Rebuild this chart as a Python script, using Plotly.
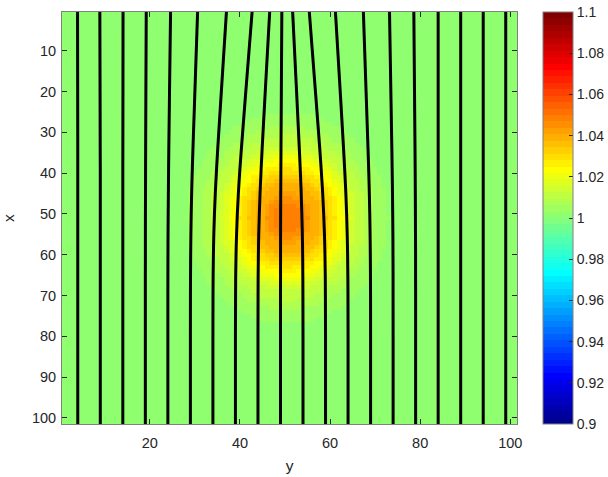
import plotly.graph_objects as go

# ---------------- data ----------------
# grid (vertical axis is "x", horizontal axis is "y")
grid_x = list(range(1, 102))
grid_y = list(range(1, 102))

# centre of the bump, its vertical stretch, and its value at integer distance from the centre
bump_center_x = 51
bump_center_y = 50.5
bump_stretch_x = 1.15
bump_profile = [1.04950, 1.04923, 1.04842, 1.04709, 1.04530, 1.04310, 1.04055,
                1.03773, 1.03472, 1.03160, 1.02845, 1.02532, 1.02229, 1.01941,
                1.01671, 1.01423, 1.01198, 1.00998, 1.00822, 1.00670, 1.00540,
                1.00430, 1.00339, 1.00264, 1.00203, 1.00155, 1.00117, 1.00087,
                1.00064, 1.00047, 1.00034]
background_value = 1.0

# black curves: horizontal ("y") position at each vertical ("x") level
line_levels = [101.5, 80, 70, 65, 60, 55, 50, 45, 40, 34, 20, 0.5]
line_01 = [4, 4, 4, 4, 4, 4, 4, 4, 4, 4, 3.98, 3.95]
line_02 = [9, 9, 9, 9, 9, 9, 9, 9, 9, 8.98, 8.95, 8.9]
line_03 = [14, 14, 14, 14, 14, 14, 14, 14, 14, 14.01, 14.03, 14.05]
line_04 = [19, 19, 19, 19, 19.01, 19.01, 19.02, 19.04, 19.05, 19.07, 19.12, 19.2]
line_05 = [24, 24, 24, 24.01, 24.02, 24.04, 24.07, 24.11, 24.15, 24.21, 24.37, 24.6]
line_06 = [29, 29, 29.01, 29.03, 29.06, 29.11, 29.18, 29.28, 29.4, 29.57, 30.0, 30.6]
line_07 = [34, 34, 34.02, 34.05, 34.11, 34.2, 34.34, 34.53, 34.76, 35.07, 35.87, 37.0]
line_08 = [39, 39, 39.03, 39.06, 39.13, 39.25, 39.42, 39.65, 39.93, 40.32, 41.3, 42.7]
line_09 = [44, 44, 44.02, 44.04, 44.09, 44.17, 44.3, 44.46, 44.66, 44.93, 45.62, 46.6]
line_10 = [49, 49, 49, 49.01, 49.01, 49.02, 49.03, 49.05, 49.08, 49.11, 49.19, 49.3]
line_11 = [54, 54, 53.98, 53.96, 53.92, 53.85, 53.74, 53.6, 53.42, 53.18, 52.57, 51.7]
line_12 = [59, 59, 58.97, 58.94, 58.87, 58.76, 58.59, 58.37, 58.09, 57.72, 56.76, 55.4]
line_13 = [64, 64, 63.98, 63.95, 63.9, 63.81, 63.68, 63.51, 63.29, 63.0, 62.26, 61.2]
line_14 = [69, 69, 68.99, 68.97, 68.94, 68.89, 68.82, 68.72, 68.6, 68.43, 68.0, 67.4]
line_15 = [74, 74, 73.99, 73.99, 73.97, 73.95, 73.91, 73.86, 73.8, 73.72, 73.5, 73.2]
line_16 = [79, 79, 79, 78.99, 78.99, 78.97, 78.95, 78.93, 78.9, 78.86, 78.75, 78.6]
line_17 = [84, 84, 84, 84, 84, 84, 84, 84, 84, 84, 84, 84]
line_18 = [89, 89, 89, 89, 89, 89, 89, 89, 89, 89, 89, 89]
line_19 = [94, 94, 94, 94, 94, 94, 94, 94, 94, 94, 94, 94]
line_20 = [99, 99, 99, 99, 99, 99, 99, 99, 99, 99, 99, 99]
all_lines = [line_01, line_02, line_03, line_04, line_05, line_06, line_07,
             line_08, line_09, line_10, line_11, line_12, line_13, line_14,
             line_15, line_16, line_17, line_18, line_19, line_20]

# tick labels
yaxis_ticks = [10, 20, 30, 40, 50, 60, 70, 80, 90, 100]
xaxis_ticks = [20, 40, 60, 80, 100]
cbar_ticks = [0.9, 0.92, 0.94, 0.96, 0.98, 1.0, 1.02, 1.04, 1.06, 1.08, 1.1]
cbar_ticktext = ["0.9", "0.92", "0.94", "0.96", "0.98", "1", "1.02", "1.04",
                 "1.06", "1.08", "1.1"]
color_min, color_max = 0.9, 1.1

# ---------------- field from the profile ----------------
z = []
for gx in grid_x:
    row = []
    for gy in grid_y:
        d = (((gx - bump_center_x) / bump_stretch_x) ** 2 + (gy - bump_center_y) ** 2) ** 0.5
        r = round(d)
        row.append(bump_profile[r] if r < len(bump_profile) else background_value)
    z.append(row)


# ---------------- MATLAB jet(64), stepped ----------------
def jet(n=64):
    m = -(-n // 4)
    u = [i / m for i in range(1, m + 1)] + [1.0] * (m - 1) + [i / m for i in range(m, 0, -1)]
    g0 = -(-m // 2) - (1 if n % 4 == 1 else 0)
    rows = [[0.0, 0.0, 0.0] for _ in range(n)]
    for i, val in enumerate(u):
        g = g0 + i + 1
        r = g + m
        b = g - m
        if 1 <= r <= n:
            rows[r - 1][0] = val
        if 1 <= g <= n:
            rows[g - 1][1] = val
        if 1 <= b <= n:
            rows[b - 1][2] = val
    return rows


jet_rows = jet(64)
eps = 1e-5
colorscale = []
for k, (rr, gg, bb) in enumerate(jet_rows):
    c = "rgb(%d,%d,%d)" % (round(rr * 255), round(gg * 255), round(bb * 255))
    lo = 0.0 if k == 0 else k / 64 - eps
    hi = 1.0 if k == 63 else (k + 1) / 64 - eps
    colorscale.append([lo, c])
    colorscale.append([hi, c])

W, H = 608, 477
L, R, T, B = 62, 517, 12, 424
FONT = "Liberation Sans, Arial, Helvetica"
TXT = "#262626"

fig = go.Figure()
fig.add_trace(go.Heatmap(
    x=grid_y, y=grid_x, z=z,
    colorscale=colorscale, zmin=color_min, zmax=color_max,
    colorbar=dict(
        thickness=30, thicknessmode="pixels",
        len=1, lenmode="fraction", y=0.5, yanchor="middle",
        x=(543 - L) / (R - L), xanchor="left", xpad=0, ypad=0,
        outlinecolor="#808080", outlinewidth=1,
        tickvals=cbar_ticks, ticktext=cbar_ticktext,
        ticks="inside", ticklen=4, tickcolor=TXT,
        tickfont=dict(family=FONT, size=14, color=TXT),
    ),
    hoverinfo="skip",
))

for ln in all_lines:
    fig.add_trace(go.Scatter(
        x=ln, y=line_levels, mode="lines",
        line=dict(color="black", width=3, shape="spline", smoothing=1.0),
        showlegend=False, hoverinfo="skip",
    ))

axis_common = dict(
    showgrid=False, zeroline=False, showline=True, linecolor="#808080", linewidth=1,
    mirror="ticks", ticks="inside", ticklen=5, tickcolor=TXT,
    tickfont=dict(family=FONT, size=14.5, color=TXT),
)

fig.update_layout(
    width=W, height=H,
    margin=dict(l=L, r=W - R, t=T, b=H - B, pad=0, autoexpand=False),
    paper_bgcolor="white", plot_bgcolor="white",
    showlegend=False,
    xaxis=dict(range=[0.5, 101.5], tickvals=xaxis_ticks, ticklabelstandoff=6,
               title=dict(text="y", standoff=9, font=dict(family=FONT, size=15.5, color=TXT)),
               **axis_common),
    yaxis=dict(range=[101.5, 0.5], tickvals=yaxis_ticks, ticklabelstandoff=2,
               title=dict(text="x", standoff=13, font=dict(family=FONT, size=15.5, color=TXT)),
               **axis_common),
)

fig.write_html(
    "out.html",
    config={"displayModeBar": False, "staticPlot": True},
    post_script="document.body.style.margin='0';document.body.style.overflow='hidden';",
)
